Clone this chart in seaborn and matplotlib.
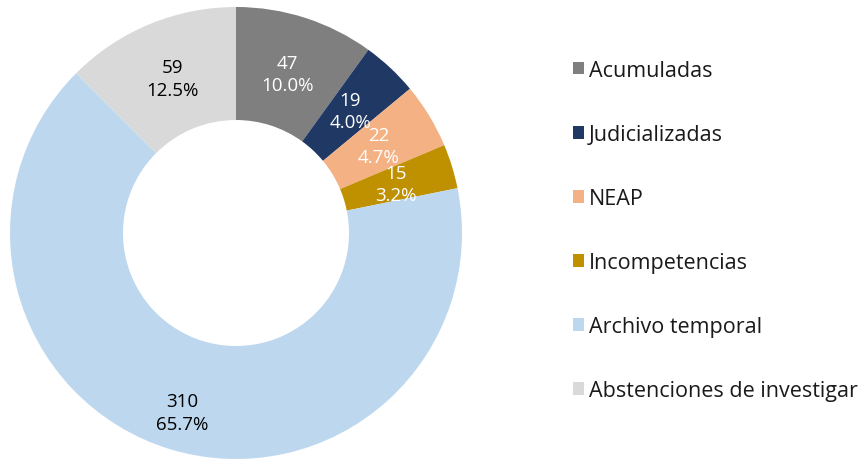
import numpy as np
import matplotlib
matplotlib.use("Agg")
import matplotlib.pyplot as plt
import seaborn as sns

categories = ["Acumuladas", "Judicializadas", "NEAP", "Incompetencias",
              "Archivo temporal", "Abstenciones de investigar"]
values = [47, 19, 22, 15, 310, 59]
colors = ["#7f7f7f", "#1f3864", "#f4b183", "#bf9000", "#bdd7ee", "#d9d9d9"]
label_colors = ["white", "white", "white", "white", "black", "black"]

sns.set_theme(style="white")
plt.rcParams['font.family'] = ['Open Sans', 'DejaVu Sans']

fig = plt.figure(figsize=(8.63, 4.6), dpi=100)
ax = fig.add_axes([10 / 863, 0, 452 / 863, 452 / 460])

wedges, _ = ax.pie(values, colors=colors, startangle=90, counterclock=False,
                   radius=1.0, wedgeprops=dict(width=0.5, edgecolor="none"))
ax.set_xlim(-1, 1)
ax.set_ylim(-1, 1)
ax.set_aspect("equal")
ax.axis("off")

total = sum(values)
for w, v, c in zip(wedges, values, label_colors):
    ang = np.deg2rad((w.theta1 + w.theta2) / 2)
    r = 0.83 if v == max(values) else 0.74
    ax.text(r * np.cos(ang), r * np.sin(ang), f"{v}\n{v / total * 100:.1f}%",
            ha="center", va="center", color=c, fontsize=13.5, linespacing=1.3)

fig.legend(wedges, categories, loc="upper left", bbox_to_anchor=(564 / 863, 1 - 52 / 460),
           frameon=False, fontsize=15.5, handlelength=0.55, handleheight=0.55,
           handletextpad=0.2, labelspacing=2.0, borderaxespad=0, labelcolor="#1a1a1a")

fig.savefig("out.png", dpi=100)
